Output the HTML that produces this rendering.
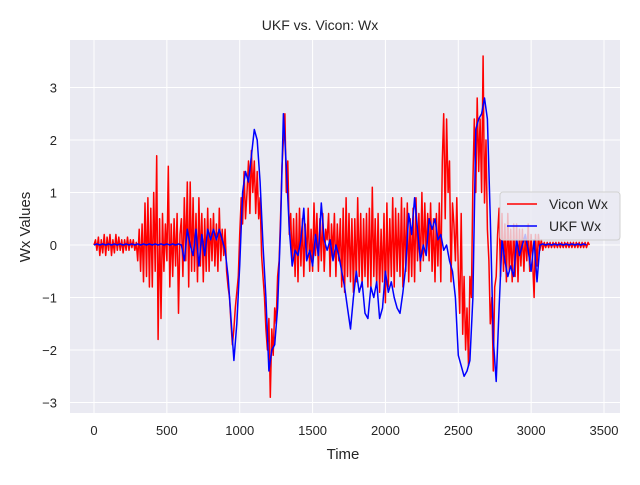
<!DOCTYPE html>
<html><head><meta charset="utf-8"><style>
body{margin:0;background:#fff;}
svg text{font-family:"Liberation Sans",sans-serif;fill:#262626;}
</style></head><body>
<svg id="chart" width="640" height="480" viewBox="0 0 640 480">
<rect x="70" y="40" width="550" height="373" fill="#eaeaf2"/>
<g id="grid"></g>
<g id="series"></g>
<g id="ticks"></g>
<text x="320" y="30" text-anchor="middle" font-size="14">UKF vs. Vicon: Wx</text>
<text x="343" y="459" text-anchor="middle" font-size="15">Time</text>
<text transform="translate(30,227) rotate(-90)" text-anchor="middle" font-size="15">Wx Values</text>
<g>
<rect x="500" y="192" width="120" height="48" rx="3" fill="#eaeaf2" fill-opacity="0.8" stroke="#d0d0d0"/>
<g><line x1="507" y1="204" x2="537" y2="204" stroke="red" stroke-width="1.5"/><text x="549" y="209" font-size="14">Vicon Wx</text></g>
<g><line x1="507" y1="226" x2="537" y2="226" stroke="blue" stroke-width="1.5"/><text x="549" y="231" font-size="14">UKF Wx</text></g>
</g>
</svg>
<script>
const viconStep = 10;
const ukfStep = 20;
const xTicks = [0,500,1000,1500,2000,2500,3000,3500];
const yTicks = [-3,-2,-1,0,1,2,3];
const viconWx = [
0,0.1,-0.1,0.15,-0.2,0.1,-0.15,0.2,-0.2,0.15,
-0.1,0.2,-0.2,0.1,-0.15,0.2,-0.1,0.15,-0.1,0.1,
-0.15,0.1,-0.1,0.15,-0.1,0.1,-0.05,0.1,-0.1,0.05,
-0.3,0.3,-0.5,0.4,-0.7,0.8,-0.6,0.9,-0.8,0.7,
-0.8,1.0,-0.5,1.7,-1.8,0.5,-1.4,0.6,-0.5,0.4,
-0.3,1.5,-0.8,0.4,-0.6,0.5,-0.4,0.6,-1.3,0.2,
0.5,-0.6,0.9,-0.3,1.2,-0.8,1.2,-0.5,0.9,-0.5,
0.6,-0.7,0.9,-0.4,0.6,-0.7,0.5,-0.5,0.7,-0.5,
0.5,-0.3,0.6,-0.4,0.4,-0.5,0.7,-0.3,0.3,-0.2,
0.3,-0.5,-0.8,-1.0,-1.5,-1.9,-1.6,-1.2,-0.9,-0.6,
0.2,0.9,0.4,1.4,0.5,1.0,1.6,0.6,1.8,1.0,
1.6,0.6,1.4,0.5,0.9,-0.2,-0.6,-1.0,-1.6,-2.0,
-1.4,-2.9,-1.6,-2.1,-1.2,-1.5,-0.6,-0.3,0.5,1.5,
2.0,2.5,1.0,1.6,0.2,0.6,-0.4,0.5,-0.6,0.6,
-0.7,0.7,-0.4,0.5,-0.6,0.4,-0.3,0.7,-0.5,0.3,
-0.5,0.8,-0.2,0.6,-0.5,0.5,-0.3,0.6,-0.5,0.3,
0.1,0.6,-0.6,0.4,-0.2,0.6,-0.6,0.4,-0.3,0.5,
-0.8,0.7,-0.9,0.9,-0.6,0.6,-0.7,0.5,-0.9,0.5,
-0.7,0.9,-0.6,0.6,-0.8,0.5,-0.6,0.6,-0.8,0.7,
-0.8,1.1,-0.6,0.5,-0.8,0.6,-0.9,0.3,-0.7,0.6,
-1.1,0.8,-0.8,0.5,-0.6,0.9,-0.8,0.7,-0.5,0.6,
-0.6,0.9,-0.8,0.7,-0.5,0.8,-0.7,0.5,-0.6,0.7,
-0.7,0.9,-0.3,0.6,-0.5,1.0,-0.3,0.8,-0.2,0.6,
-0.3,0.8,-0.5,0.5,-0.7,0.6,-0.4,0.8,-0.7,1.6,
2.5,0.5,2.4,1.0,1.6,-0.7,0.8,0.4,-0.3,0.9,
-0.5,-1.3,0.6,-1.7,-0.6,-2.0,-1.2,-2.3,-0.6,-1.0,
1.2,2.4,1.0,2.8,1.4,2.4,1.0,3.6,0.8,2.0,
0.3,-0.3,-1.5,-1.0,-2.4,-0.8,-0.6,0.2,0.7,-0.6,
0.6,-0.5,0.4,-0.7,0.6,-0.5,0.3,-0.7,0.4,-0.6,
0.4,-0.7,0.3,-0.4,0.3,-0.5,0.2,-0.3,0.4,-0.5,
0.2,-0.3,-1.0,0.2,-0.4,0.2,-0.1,0.1,-0.1,0.05,
-0.05,0.05,-0.05,0.05,-0.05,0.05,-0.05,0.05,-0.05,0.05,
-0.05,0.05,-0.05,0.05,-0.05,0.05,-0.05,0.05,-0.05,0.05,
-0.05,0.05,-0.05,0.05,-0.05,0.05,-0.05,0.05,-0.05,0.05,
0];
const ukfWx = [0,0.02,0,0.02,0,0.02,0,0.02,0,0.02,0,0.02,0,0.02,0,0.02,0,0.02,0,0.02,0,0.02,0,0.02,0,0.02,0,0.02,0,0.02,
0,-0.3,0.3,0,-0.2,0.3,-0.4,0.2,-0.2,0.3,0.1,0.3,0.1,0.3,0.1,-0.1,-0.6,-1.4,-2.2,-1.5,-0.4,1.0,1.4,1.2,1.7,2.2,2.0,1.2,0.0,-1.0,-2.4,-2.0,-1.9,-1.2,0.3,2.5,1.5,0.3,-0.4,-0.1,-0.2,0.1,0.7,-0.3,-0.1,-0.4,0.2,-0.2,0.8,0.1,-0.1,0.1,-0.3,0.0,-0.2,-0.5,-0.8,-1.2,-1.6,-1.0,-0.5,-0.9,-0.7,-1.3,-1.4,-0.8,-1.0,-0.7,-1.4,-1.2,-0.5,-0.9,-0.7,-1.0,-1.2,-1.3,-0.9,-0.4,0.6,0.2,0.9,0.3,-0.3,0.0,-0.2,0.5,0.3,0.5,0.1,0.2,-0.1,0.0,-0.3,-0.5,-1.0,-2.1,-2.3,-2.5,-2.4,-2.2,-1.0,2.2,2.4,2.5,2.8,2.4,0.5,-1.8,-2.6,-1.2,0.1,-0.3,-0.6,-0.4,-0.6,0.1,-0.2,0.0,0.2,-0.1,-0.5,0.1,-0.7,0.0,
0.02,0,0.02,0,0.02,0,0.02,0,0.02,0,0.02,0,0.02,0,0.02,0];
const X = t => 94 + t * (510/3500);
const Y = v => 245 - v * 52.5;
const ns = "http://www.w3.org/2000/svg";
const grid = document.getElementById('grid'), ticks = document.getElementById('ticks'), series = document.getElementById('series');
xTicks.forEach(t => {
  const l = document.createElementNS(ns,'line');
  l.setAttribute('x1',X(t)); l.setAttribute('x2',X(t)); l.setAttribute('y1',40); l.setAttribute('y2',413);
  l.setAttribute('stroke','#fff'); l.setAttribute('stroke-width','1');
  
  
  grid.appendChild(l);
  const tx = document.createElementNS(ns,'text');
  tx.setAttribute('x',X(t)); tx.setAttribute('y',435); tx.setAttribute('text-anchor','middle'); tx.setAttribute('font-size','13');
  tx.textContent = t;
  
  
  ticks.appendChild(tx);
});
yTicks.forEach(v => {
  const l = document.createElementNS(ns,'line');
  l.setAttribute('x1',70); l.setAttribute('x2',620); l.setAttribute('y1',Y(v)); l.setAttribute('y2',Y(v));
  l.setAttribute('stroke','#fff'); l.setAttribute('stroke-width','1');
  
  
  grid.appendChild(l);
  const tx = document.createElementNS(ns,'text');
  tx.setAttribute('x',57); tx.setAttribute('y',Y(v)+5); tx.setAttribute('text-anchor','end'); tx.setAttribute('font-size','13');
  tx.textContent = v < 0 ? '\u2212' + Math.abs(v) : v;
  
  
  ticks.appendChild(tx);
});
function draw(arr, step, color, name){
  const p = document.createElementNS(ns,'polyline');
  p.setAttribute('points', arr.map((v,i)=>X(i*step).toFixed(1)+','+Y(v).toFixed(1)).join(' '));
  p.setAttribute('fill','none'); p.setAttribute('stroke',color); p.setAttribute('stroke-width','1.5'); p.setAttribute('stroke-linejoin','round');
  
  
  series.appendChild(p);
}
draw(viconWx,viconStep,'red','vicon-wx-line');
draw(ukfWx,ukfStep,'blue','ukf-wx-line');
</script>
</body></html>
